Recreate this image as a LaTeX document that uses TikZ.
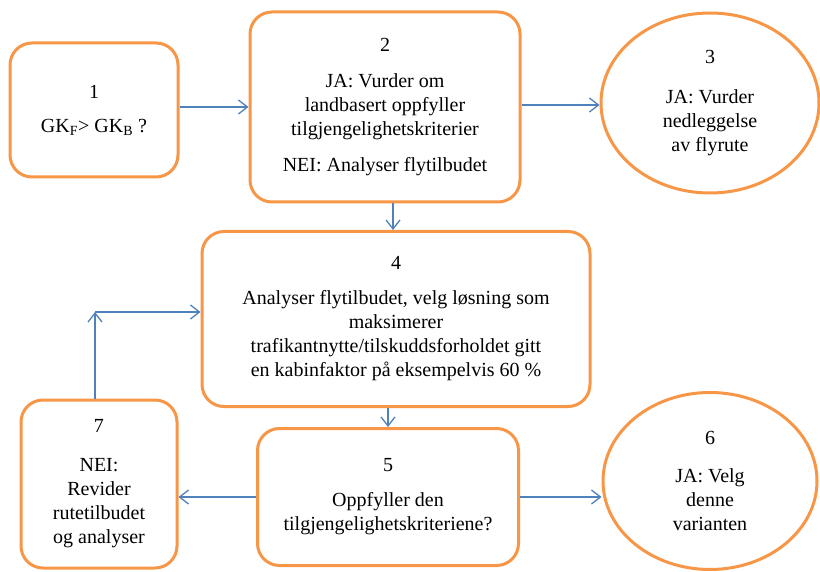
\documentclass[tikz,border=0pt]{standalone}
\usepackage{fontspec}
\setmainfont{Liberation Serif}
\usetikzlibrary{arrows.meta,shapes.geometric}
\definecolor{boxorange}{RGB}{247,150,70}
\definecolor{arrowblue}{RGB}{79,129,189}

\begin{document}
\begin{tikzpicture}[x=1pt,y=-1pt,
        stepbox/.style={draw=boxorange, line width=3pt, rounded corners=22pt,
            align=center, inner sep=0pt, font=\fontsize{20}{24}\selectfont},
        endoval/.style={draw=boxorange, line width=3pt, ellipse,
            align=center, inner sep=0pt, font=\fontsize{20}{24}\selectfont},
        flow/.style={draw=arrowblue, line width=1.3pt,
            -{Straight Barb[length=9pt,width=14pt,line width=1.3pt]}}]
        \useasboundingbox (0,0) rectangle (820,572);
        % boxes
        \node[stepbox, minimum width=168pt, minimum height=134pt] (box1) at (94,110)
            {1\\[10pt] GK\textsubscript{F}> GK\textsubscript{B} ?};
        \node[stepbox, minimum width=270pt, minimum height=190pt] (box2) at (385,107)
            {2\\[12pt] JA: Vurder om\\ landbasert oppfyller\\ tilgjengelighetskriterier\\[12pt] NEI: Analyser flytilbudet};
        \node[endoval, minimum width=218pt, minimum height=180pt] (oval3) at (710,103)
            {3\\[16pt] JA: Vurder\\ nedleggelse\\ av flyrute};
        \node[stepbox, minimum width=388pt, minimum height=175pt] (box4) at (396,319)
            {4\\[11pt] Analyser flytilbudet, velg løsning som\\ maksimerer\\ trafikantnytte/tilskuddsforholdet gitt\\ en kabinfaktor på eksempelvis 60 \%};
        \node[stepbox, minimum width=261pt, minimum height=137pt] (box5) at (388,497)
            {5\\[11pt] Oppfyller den\\ tilgjengelighetskriteriene?};
        \node[endoval, minimum width=214pt, minimum height=177pt] (oval6) at (710,481)
            {6\\[14pt] JA: Velg\\ denne\\ varianten};
        \node[stepbox, minimum width=156pt, minimum height=168pt] (box7) at (99,484)
            {7\\[15pt] NEI:\\ Revider\\ rutetilbudet\\ og analyser};
        \coordinate (turn) at (95,312);
        % connectors
        \draw[flow] (box1.east |- 0,107) -- (box2.west |- 0,107);
        \draw[flow] (box2.east |- 0,105) -- (oval3.west |- 0,105);
        \draw[flow] (box2.south -| 393,0) -- (box4.north -| 393,0);
        \draw[flow] (box4.south -| box5.north) -- (box5.north);
        \draw[flow] (box5.east) -- (box5.east -| oval6.west);
        \draw[flow] (box5.west) -- (box5.west -| box7.east);
        \draw[flow] (box7.north -| turn) -- (turn);
        \draw[flow] (turn) -- (turn -| box4.west);
\end{tikzpicture}
\end{document}
